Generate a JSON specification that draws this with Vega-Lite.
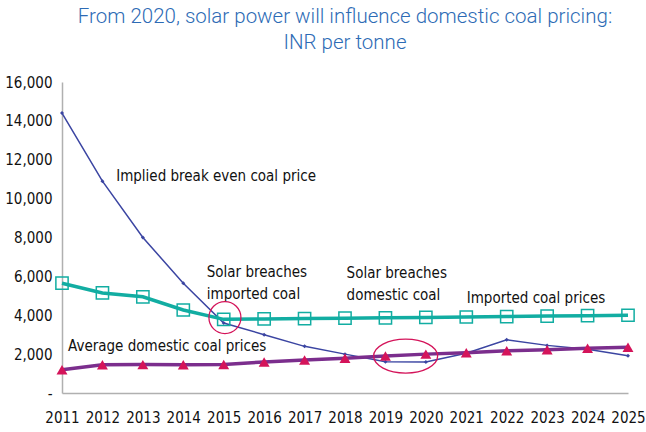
{
  "$schema": "https://vega.github.io/schema/vega-lite/v6.json",
  "width": 566,
  "height": 311,
  "autosize": {"type": "none"},
  "padding": {"left": 62, "top": 82, "right": 18, "bottom": 39},
  "background": "white",
  "title": {
    "text": ["From 2020, solar power will influence domestic coal pricing:", "INR per tonne"],
    "color": "#2d6bb5",
    "font": "Roboto",
    "fontSize": 20.5,
    "fontWeight": 300,
    "anchor": "middle",
    "frame": "group",
    "offset": 22,
    "lineHeight": 26
  },
  "config": {"view": {"stroke": null}},
  "datasets": {
    "series": [
      {"year": 2011, "series": "breakeven", "value": 14400},
      {"year": 2012, "series": "breakeven", "value": 10900},
      {"year": 2013, "series": "breakeven", "value": 8000},
      {"year": 2014, "series": "breakeven", "value": 5650},
      {"year": 2015, "series": "breakeven", "value": 3600},
      {"year": 2016, "series": "breakeven", "value": 3000},
      {"year": 2017, "series": "breakeven", "value": 2400},
      {"year": 2018, "series": "breakeven", "value": 2000},
      {"year": 2019, "series": "breakeven", "value": 1610},
      {"year": 2020, "series": "breakeven", "value": 1600},
      {"year": 2021, "series": "breakeven", "value": 2050},
      {"year": 2022, "series": "breakeven", "value": 2740},
      {"year": 2023, "series": "breakeven", "value": 2450},
      {"year": 2024, "series": "breakeven", "value": 2250},
      {"year": 2025, "series": "breakeven", "value": 1920},
      {"year": 2011, "series": "imported", "value": 5650},
      {"year": 2012, "series": "imported", "value": 5150},
      {"year": 2013, "series": "imported", "value": 4950},
      {"year": 2014, "series": "imported", "value": 4270},
      {"year": 2015, "series": "imported", "value": 3790},
      {"year": 2016, "series": "imported", "value": 3810},
      {"year": 2017, "series": "imported", "value": 3830},
      {"year": 2018, "series": "imported", "value": 3850},
      {"year": 2019, "series": "imported", "value": 3870},
      {"year": 2020, "series": "imported", "value": 3890},
      {"year": 2021, "series": "imported", "value": 3910},
      {"year": 2022, "series": "imported", "value": 3930},
      {"year": 2023, "series": "imported", "value": 3960},
      {"year": 2024, "series": "imported", "value": 3980},
      {"year": 2025, "series": "imported", "value": 4000},
      {"year": 2011, "series": "domestic", "value": 1200},
      {"year": 2012, "series": "domestic", "value": 1450},
      {"year": 2013, "series": "domestic", "value": 1460},
      {"year": 2014, "series": "domestic", "value": 1450},
      {"year": 2015, "series": "domestic", "value": 1470},
      {"year": 2016, "series": "domestic", "value": 1600},
      {"year": 2017, "series": "domestic", "value": 1700},
      {"year": 2018, "series": "domestic", "value": 1790},
      {"year": 2019, "series": "domestic", "value": 1900},
      {"year": 2020, "series": "domestic", "value": 2000},
      {"year": 2021, "series": "domestic", "value": 2070},
      {"year": 2022, "series": "domestic", "value": 2170},
      {"year": 2023, "series": "domestic", "value": 2220},
      {"year": 2024, "series": "domestic", "value": 2300},
      {"year": 2025, "series": "domestic", "value": 2350}
    ],
    "notes": [
      {"year": 2012.34, "value": 11150, "label": "Implied break even coal price"},
      {"year": 2014.58, "value": 6240, "label": "Solar breaches\nimported coal"},
      {"year": 2018.04, "value": 6170, "label": "Solar breaches\ndomestic coal"},
      {"year": 2021.01, "value": 4870, "label": "Imported coal prices"},
      {"year": 2011.15, "value": 2420, "label": "Average domestic coal prices"}
    ],
    "circle": [{"year": 2015.03, "value": 3880}],
    "ellipse": [{"year": 2019.5, "value": 1900}]
  },
  "encoding": {
    "x": {
      "field": "year",
      "type": "quantitative",
      "scale": {"domain": [2011, 2025], "nice": false, "zero": false},
      "axis": {
        "values": [2011, 2012, 2013, 2014, 2015, 2016, 2017, 2018, 2019, 2020, 2021, 2022, 2023, 2024, 2025],
        "format": "d",
        "title": null,
        "grid": false,
        "ticks": false,
        "domainColor": "#b0b0b0",
        "domainWidth": 1.5,
        "labelFont": "Liberation Sans Narrow, DejaVu Sans Condensed, sans-serif",
        "labelFontSize": 15,
        "labelColor": "#111111",
        "labelPadding": 17,
        "labelFlush": false,
        "labelOverlap": false
      }
    },
    "y": {
      "field": "value",
      "type": "quantitative",
      "scale": {"domain": [0, 16000], "nice": false},
      "axis": {
        "values": [0, 2000, 4000, 6000, 8000, 10000, 12000, 14000, 16000],
        "labelExpr": "datum.value == 0 ? '-' : format(datum.value, ',')",
        "title": null,
        "grid": false,
        "ticks": false,
        "domainColor": "#b0b0b0",
        "domainWidth": 1.5,
        "labelFont": "Liberation Sans Narrow, DejaVu Sans Condensed, sans-serif",
        "labelFontSize": 15,
        "labelColor": "#111111",
        "labelPadding": 10,
        "labelOverlap": false
      }
    }
  },
  "layer": [
    {
      "data": {"name": "series"},
      "transform": [{"filter": "datum.series == 'breakeven'"}],
      "mark": {"type": "line", "color": "#3b45a2", "strokeWidth": 1.5}
    },
    {
      "data": {"name": "series"},
      "transform": [{"filter": "datum.series == 'breakeven'"}],
      "mark": {"type": "point", "shape": "diamond", "filled": true, "size": 16, "color": "#3b45a2", "opacity": 1}
    },
    {
      "data": {"name": "series"},
      "transform": [{"filter": "datum.series == 'imported'"}],
      "mark": {"type": "line", "color": "#12ada2", "strokeWidth": 3.5}
    },
    {
      "data": {"name": "series"},
      "transform": [{"filter": "datum.series == 'domestic'"}],
      "mark": {"type": "line", "color": "#7b2e8d", "strokeWidth": 3.5}
    },
    {
      "data": {"name": "series"},
      "transform": [{"filter": "datum.series == 'imported'"}],
      "mark": {"type": "point", "shape": "square", "filled": false, "size": 150, "strokeWidth": 1.5, "color": "#12ada2", "opacity": 1}
    },
    {
      "data": {"name": "series"},
      "transform": [{"filter": "datum.series == 'domestic'"}],
      "mark": {"type": "point", "shape": "triangle-up", "filled": true, "size": 120, "color": "#d4145a", "opacity": 1}
    },
    {
      "data": {"name": "notes"},
      "mark": {
        "type": "text",
        "align": "left",
        "baseline": "middle",
        "lineBreak": "\n",
        "lineHeight": 22,
        "font": "Liberation Sans Narrow, DejaVu Sans Condensed, sans-serif",
        "fontSize": 15,
        "color": "#111111"
      },
      "encoding": {"text": {"field": "label"}}
    },
    {
      "data": {"name": "circle"},
      "mark": {"type": "point", "shape": "circle", "filled": false, "size": 1024, "strokeWidth": 1.3, "color": "#d4145a", "opacity": 1}
    },
    {
      "data": {"name": "ellipse"},
      "mark": {"type": "point", "shape": "M -1 0 A 1 0.53 0 1 0 1 0 A 1 0.53 0 1 0 -1 0 Z", "filled": false, "size": 4096, "strokeWidth": 1.3, "color": "#d4145a", "opacity": 1}
    }
  ]
}
